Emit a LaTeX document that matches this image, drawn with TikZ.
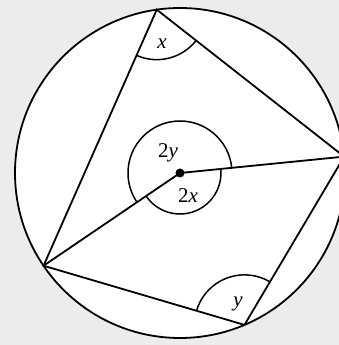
\documentclass[tikz,border=0pt]{standalone}
\usepackage{fontspec}
\setmainfont{Liberation Serif}
\usetikzlibrary{angles,calc}
\tikzset{
  edge/.style={line width=1.8pt},
  anglearc/.style={draw,line width=1.5pt},
  lbl/.style={font=\fontsize{21}{24}\selectfont\itshape,inner sep=0pt},
}
\begin{document}
\begin{tikzpicture}[x=1pt,y=1pt]
  \useasboundingbox (0,0) rectangle (339,345);
  \fill[gray!15] (0,0) rectangle (339,345);
  % circle and inscribed quadrilateral
  \coordinate (O) at (180,172);
  \fill[white] (O) circle (165);
  \draw[edge] (O) circle (165);
  \coordinate (A) at ($(O)+(98.1:165)$);
  \coordinate (B) at ($(O)+(5.7:165)$);
  \coordinate (C) at ($(O)+(-67:165)$);
  \coordinate (D) at ($(O)+(214.2:165)$);
  \draw[edge] (A) -- (B) -- (C) -- (D) -- cycle;
  \draw[edge] (D) -- (O) -- (B);
  % angle marks
  \pic[anglearc,angle radius=50pt] {angle=D--A--B};
  \pic[anglearc,angle radius=50pt] {angle=B--C--D};
  \pic[anglearc,angle radius=52pt] {angle=B--O--D};
  \pic[anglearc,angle radius=41pt] {angle=D--O--B};
  \fill (O) circle (4.5);
  % labels
  \node[lbl] (lx) at (162,301) {x};
  \node[lbl] (l2y) at (168,192) {\upshape2\itshape y};
  \node[lbl] (l2x) at (188,149) {\upshape2\itshape x};
  \node[lbl] (ly) at (238,41) {y};
\end{tikzpicture}
\end{document}
